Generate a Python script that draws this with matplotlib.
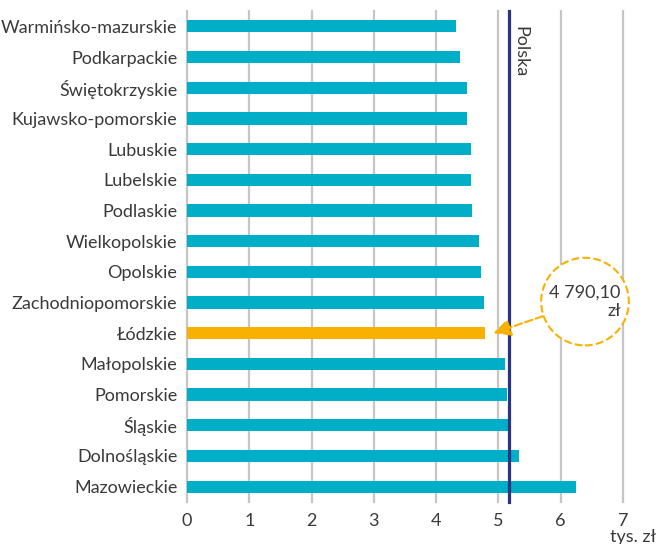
import matplotlib
matplotlib.use("Agg")
import matplotlib.pyplot as plt

regions = ["Warmińsko-mazurskie", "Podkarpackie", "Świętokrzyskie", "Kujawsko-pomorskie",
           "Lubuskie", "Lubelskie", "Podlaskie", "Wielkopolskie", "Opolskie",
           "Zachodniopomorskie", "Łódzkie", "Małopolskie", "Pomorskie", "Śląskie",
           "Dolnośląskie", "Mazowieckie"]
values = [4.32, 4.38, 4.49, 4.49, 4.56, 4.56, 4.57, 4.69, 4.72, 4.77, 4.79010,
          5.10, 5.14, 5.16, 5.33, 6.24]
polska = 5.17
highlight = "Łódzkie"
callout_text = "4 790,10\nzł"
xticks = [0, 1, 2, 3, 4, 5, 6, 7]
unit_label = "tys. zł"

teal = "#00aec7"
orange = "#f8b100"
navy = "#2b3481"
grid = "#c6c6c6"
txt = "#3a3a3a"

plt.rcParams['font.family'] = ['Lato', 'DejaVu Sans']

fig = plt.figure(figsize=(6.58, 5.44), dpi=100)
ax = fig.add_axes([187/658, 1-502/544, (623-187)/658, (502-11)/544])

ypos = list(range(len(regions)))
colors = [orange if r == highlight else teal for r in regions]
ax.barh(ypos, values, height=0.4, color=colors, zorder=3)
ax.set_ylim(len(regions)-0.5, -0.5)
ax.set_xlim(0, 7)
ax.set_yticks(ypos)
ax.set_yticklabels(regions, fontsize=13, color=txt)
ax.set_xticks(xticks)
ax.set_xticklabels([str(t) for t in xticks], fontsize=13, color=txt)
ax.tick_params(axis='both', length=0)
ax.tick_params(axis='y', pad=7)
ax.tick_params(axis='x', pad=8)
for s in ax.spines.values():
    s.set_visible(False)
for t in xticks:
    ax.axvline(t, color=grid, lw=1.6, zorder=1, clip_on=False)

ax.axvline(polska, color=navy, lw=2.3, zorder=4, clip_on=False)
ax.text(polska + 0.05, 0.0, "Polska", rotation=-90, ha='left', va='top',
        fontsize=13, color=txt, zorder=5)

hi = regions.index(highlight)
ax.annotate(callout_text, xy=(values[hi] + 0.13, hi), xytext=(6.39, 8.97),
            ha='center', va='center', fontsize=13, color=txt, multialignment='right',
            bbox=dict(boxstyle='circle,pad=0.45', fc='white', ec=orange, ls='--', lw=1.5),
            arrowprops=dict(arrowstyle='-|>,head_length=0.8,head_width=0.4',
                            color=orange, ls='--', lw=1.5, shrinkA=0, shrinkB=0),
            zorder=6)

fig.text(656/658, 1-537/544, unit_label, ha='right', va='center', fontsize=13, color=txt)

fig.savefig("out.png", dpi=100)
